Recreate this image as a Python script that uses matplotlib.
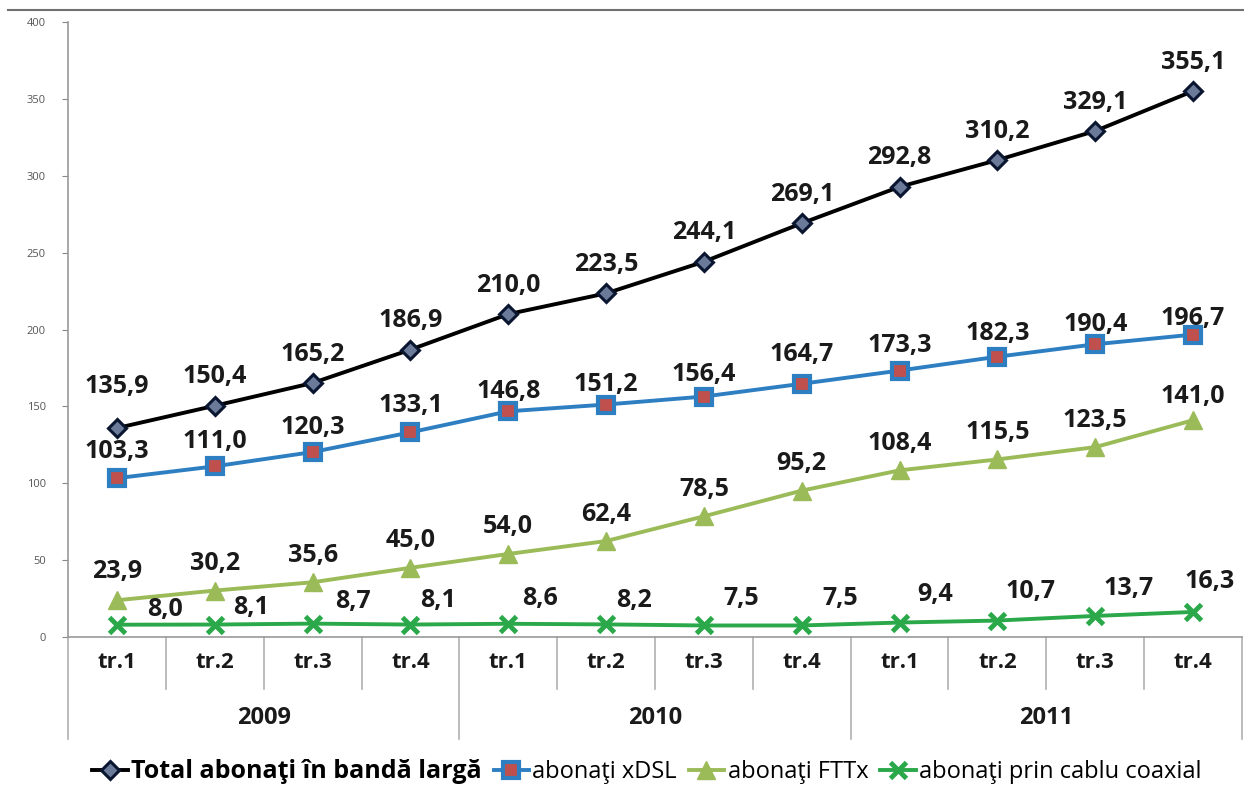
import numpy as np
import matplotlib.pyplot as plt
from matplotlib.lines import Line2D
import matplotlib.transforms as mtransforms

plt.rcParams['font.family'] = ['Open Sans', 'DejaVu Sans']

# date
quarters = ["tr.1", "tr.2", "tr.3", "tr.4"] * 3
years = ["2009", "2010", "2011"]
total = [135.9, 150.4, 165.2, 186.9, 210.0, 223.5, 244.1, 269.1, 292.8, 310.2, 329.1, 355.1]
xdsl = [103.3, 111.0, 120.3, 133.1, 146.8, 151.2, 156.4, 164.7, 173.3, 182.3, 190.4, 196.7]
fttx = [23.9, 30.2, 35.6, 45.0, 54.0, 62.4, 78.5, 95.2, 108.4, 115.5, 123.5, 141.0]
coax = [8.0, 8.1, 8.7, 8.1, 8.6, 8.2, 7.5, 7.5, 9.4, 10.7, 13.7, 16.3]

names = ["Total abonaţi în bandă largă", "abonaţi xDSL", "abonaţi FTTx",
         "abonaţi prin cablu coaxial"]

# decalaje etichete (pixeli)
off_total = [(0, 42)] + [(0, 29)] * 11
off_xdsl = [(0, 27), (0, 25), (0, 25), (0, 27), (0, 20), (0, 20),
            (0, 22), (0, 29), (0, 25), (0, 23), (0, 20), (0, 16)]
off_fttx = [(0, 29), (0, 27), (0, 27), (0, 27), (0, 27), (0, 27),
            (0, 27), (0, 27), (0, 27), (0, 27), (0, 27), (0, 24)]
off_coax = [(48, 15), (36, 17), (40, 22), (28, 24), (32, 25), (28, 24),
            (37, 27), (38, 27), (36, 28), (33, 29), (33, 27), (17, 30)]

fig = plt.figure(figsize=(12.44, 7.95), dpi=100)
ax = fig.add_axes([68 / 1244, 158 / 795, 1174 / 1244, 615 / 795])

x = np.arange(len(total))

c_total = "#000000"
c_xdsl = "#2e7ec2"
c_fttx = "#9bbb59"
c_coax = "#2aa84a"

st_total = dict(color=c_total, lw=2.8, marker="D", ms=9, mfc="#6a7a98",
                mec="#0a1530", mew=2.2)
st_xdsl = dict(color=c_xdsl, lw=2.8, marker="s", ms=11, mfc="#c0504d",
               mec=c_xdsl, mew=3)
st_fttx = dict(color=c_fttx, lw=2.8, marker="^", ms=13, mfc=c_fttx, mec=c_fttx)
st_coax = dict(color=c_coax, lw=2.8, marker="x", ms=11, mew=3.5, mec=c_coax)

ax.plot(x, total, zorder=5, **st_total)
ax.plot(x, xdsl, zorder=5, **st_xdsl)
ax.plot(x, fttx, zorder=5, **st_fttx)
ax.plot(x, coax, zorder=5, **st_coax)

def fmt(v):
    return f"{v:.1f}".replace(".", ",")

for series, offs in [(total, off_total), (xdsl, off_xdsl),
                     (fttx, off_fttx), (coax, off_coax)]:
    for i, v in enumerate(series):
        ax.annotate(fmt(v), (x[i], v), xytext=offs[i], textcoords="offset pixels",
                    ha="center", va="center", fontsize=18, fontweight="bold",
                    color="#1a1a1a", zorder=6)

ax.set_xlim(-0.5, 11.5)
ax.set_ylim(0, 400)
ax.set_yticks(np.arange(0, 401, 50))
ax.tick_params(axis="y", labelsize=8, colors="#888888", length=4,
               labelcolor="#555555", pad=12)
ax.set_xticks(x)
ax.set_xticklabels(quarters, fontsize=16, fontweight="bold", color="#1a1a1a")
ax.tick_params(axis="x", length=0, pad=11)

for s in ["top", "right"]:
    ax.spines[s].set_visible(False)
ax.spines["left"].set_color("#9a9a9a")
ax.spines["bottom"].set_color("#9a9a9a")
ax.spines["left"].set_linewidth(1.2)
ax.spines["bottom"].set_linewidth(1.2)

# axa de categorii pe doua niveluri
trans = mtransforms.blended_transform_factory(ax.transData, ax.transAxes)
for i in range(13):
    bottom = -102 / 615 if i % 4 == 0 else -52 / 615
    ax.plot([i - 0.5, i - 0.5], [0, bottom], transform=trans, color="#b0b0b0",
            lw=1.2, clip_on=False)
for k, yr in enumerate(years):
    ax.text(4 * k + 1.5, -81 / 615, yr, transform=trans, ha="center", va="center",
            fontsize=17, fontweight="bold", color="#1a1a1a")

# linie sus
fig.add_artist(Line2D([8 / 1244, 1], [1 - 10 / 795, 1 - 10 / 795],
                      color="#707070", lw=1.5))

handles = [Line2D([], [], **st_total), Line2D([], [], **st_xdsl),
           Line2D([], [], **st_fttx), Line2D([], [], **st_coax)]
leg = fig.legend(handles, names, loc="center", bbox_to_anchor=(0.52, 1 - 772 / 795),
                 ncol=4, frameon=False, handlelength=1.5, handletextpad=0.15,
                 columnspacing=0.5, fontsize=17)
leg.get_texts()[0].set_fontsize(18)
leg.get_texts()[0].set_fontweight("bold")

fig.savefig("out.png", dpi=100)
